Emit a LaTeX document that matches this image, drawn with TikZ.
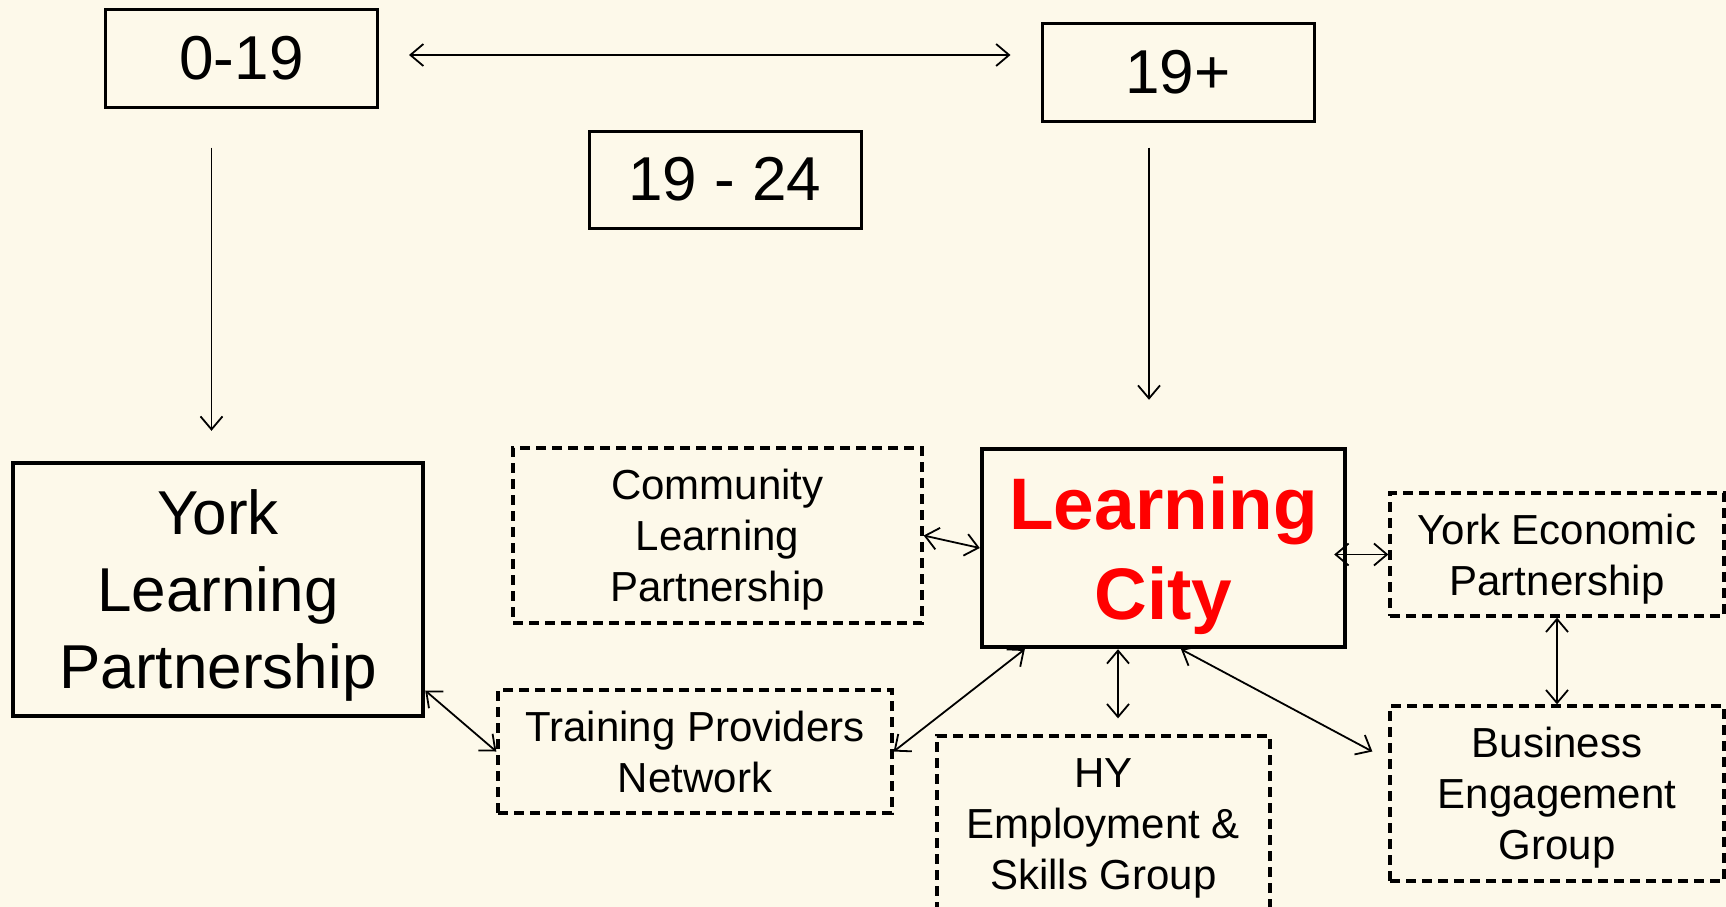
\documentclass[tikz,border=0pt]{standalone}
\usepackage{fontspec}
\setmainfont{Liberation Sans}
\usetikzlibrary{arrows.meta,calc}
\definecolor{bgc}{RGB}{253,249,234}
\definecolor{lcred}{RGB}{255,0,0}
\tikzset{
  agebox/.style={draw=black, line width=3pt, inner sep=0pt, minimum width=272pt, minimum height=97pt,
    font=\fontsize{62}{74}\selectfont},
  mainbox/.style={draw=black, line width=4.4pt, inner sep=0pt, align=center, text depth=0pt},
  dashbox/.style={draw=black, line width=3.3pt, dash pattern=on 10pt off 6pt, inner sep=0pt, align=center,
    text depth=0pt, font=\fontsize{42}{51}\selectfont},
  biarr/.style={line width=1.8pt, {Straight Barb[length=13pt,width=22pt]}-{Straight Barb[length=13pt,width=22pt]}},
  onearr/.style={line width=1.8pt, -{Straight Barb[length=13pt,width=22pt]}}
}
\begin{document}
\begin{tikzpicture}[x=1pt,y=-1pt]
\useasboundingbox (0,0) rectangle (1726,907);
\clip (0,0) rectangle (1726,907);
\fill[bgc] (0,0) rectangle (1726,907);

\node[agebox] (n019) at (241.5,58.5) {0-19};
\node[agebox] (n19p) at (1178,72.5) {19+};
\node[agebox] (n1924) at (725,179.5) {19 - 24};

\node[mainbox, minimum width=410pt, minimum height=253pt, font=\fontsize{62}{77}\selectfont] (ylp) at (218,589.5) {York\\Learning\\Partnership};
\node[mainbox, minimum width=363pt, minimum height=198pt, text=lcred, font=\fontsize{73}{90}\selectfont\bfseries] (lc) at (1163.5,548) {Learning\\City};

\node[dashbox, minimum width=409pt, minimum height=175pt] (clp) at (717.5,535.5) {Community\\Learning\\Partnership};
\node[dashbox, minimum width=334pt, minimum height=123pt] (yep) at (1557,554.5) {York Economic\\Partnership};
\node[dashbox, minimum width=394pt, minimum height=123pt] (tpn) at (695,751.5) {Training Providers\\Network};
\node[dashbox, minimum width=333pt, minimum height=176pt] (hy) at (1103.5,824) {HY\\Employment \&\\Skills Group};
\node[dashbox, minimum width=334pt, minimum height=175pt] (beg) at (1557,793.5) {Business\\Engagement\\Group};

% top connectors
\draw[biarr] ([xshift=30pt,yshift=3.5pt]n019.east) coordinate (h1) -- ([xshift=-30pt]h1 -| n19p.west);
\draw[onearr, shorten >=30pt] ([xshift=-30pt,yshift=-39pt]n019.south) coordinate (v1) -- (v1 |- ylp.north);
\draw[onearr, shorten >=47pt] ([xshift=-29pt,yshift=-25pt]n19p.south) coordinate (v2) -- (v2 |- lc.north);

% lower connectors
\draw[biarr] ([yshift=-101pt]ylp.east) -- (tpn.west);
\draw[biarr] (clp.east) -- (lc.west);
\draw[biarr] ([xshift=-13pt]yep.west -| lc.east) -- (yep.west);
\draw[biarr] ([xshift=45pt]lc.south west) -- (tpn.east);
\draw[biarr, shorten >=16pt] ([xshift=-45.5pt]lc.south) coordinate (v3) -- (v3 |- hy.north);
\draw[biarr] ([xshift=17.5pt]lc.south) -- ([xshift=-16pt,yshift=42pt]beg.west);
\draw[biarr] (yep.south) -- (beg.north);
\end{tikzpicture}
\end{document}
